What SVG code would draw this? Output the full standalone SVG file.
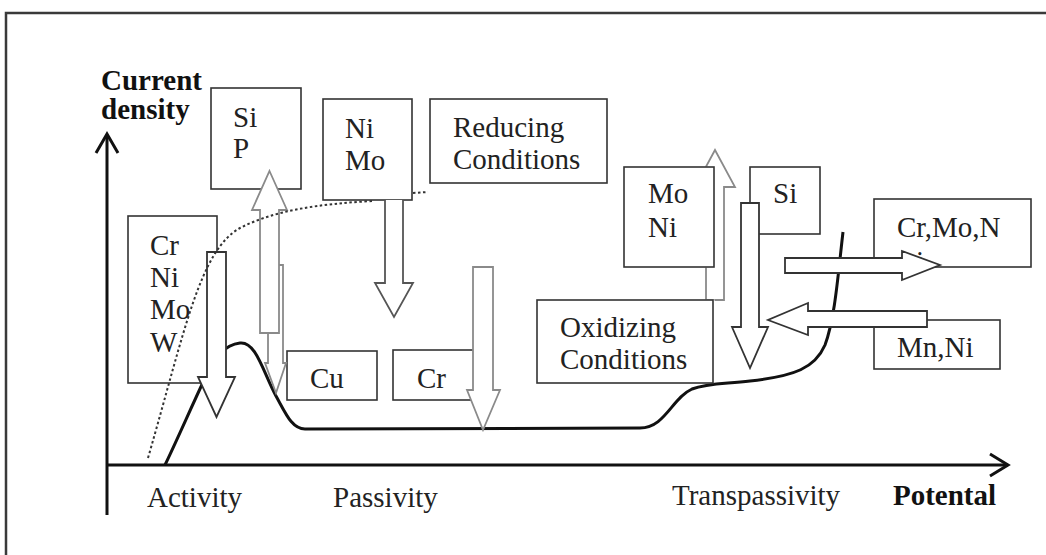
<svg xmlns="http://www.w3.org/2000/svg" width="1046" height="555" viewBox="0 0 1046 555">
<style>
.box{fill:#fff;stroke:#333;stroke-width:1.6}
.t{font-family:"Liberation Serif","Times New Roman",serif;font-size:29px;fill:#222}
.b{font-weight:bold;fill:#111}
.axis{fill:none;stroke:#111;stroke-width:3}
.ad{fill:#fff;stroke:#333;stroke-width:1.8;stroke-linejoin:miter}
.ag{fill:#fff;stroke:#8a8a8a;stroke-width:1.8;stroke-linejoin:miter}
</style>
<defs>
<clipPath id="moClip">
<rect x="714.5" y="140" width="40" height="170"/>
<rect x="680" y="140" width="40" height="26.5"/>
<rect x="680" y="267.5" width="40" height="32"/>
</clipPath>
</defs>
<rect width="1046" height="555" fill="#fff"/>
<g id="frame"><path d="M6,555 V13 H1046" fill="none" stroke="#3a3a3a" stroke-width="2.5"/></g>

<g id="axes">
<path class="axis" d="M107,515 V135"/>
<path class="axis" d="M96,153 L107,134 L118,153"/>
<path class="axis" d="M107,465 H1008"/>
<path class="axis" d="M990,454 L1008,465 L990,476"/>
<text class="t b" x="101" y="90">Current</text>
<text class="t b" x="101" y="119">density</text>
<text class="t" x="147" y="507">Activity</text>
<text class="t" x="333" y="507">Passivity</text>
<text class="t" x="672" y="505">Transpassivity</text>
<text class="t b" x="893" y="505">Potental</text>
</g>

<g id="curve">
<path d="M165,465 C178,438 190,410 205,378 C215,356 225,345 240,343 C256,341 263,372 276,396 C286,414 292,429 305,429 L640,428 C665,428 672,398 692,389 C708,383 725,384 750,381 C795,376 815,368 825,345 C835,318 838,275 843,232" fill="none" stroke="#111" stroke-width="3"/>
</g>

<g id="nodes">
<g id="n-crnimow"><rect class="box" x="128" y="216" width="89" height="167"/>
<text class="t" x="150" y="255">Cr</text><text class="t" x="150" y="287">Ni</text><text class="t" x="150" y="319">Mo</text><text class="t" x="150" y="352">W</text></g>
<g id="n-sip"><rect class="box" x="211" y="88" width="90" height="101"/>
<text class="t" x="233" y="127">Si</text><text class="t" x="233" y="158">P</text></g>
<g id="n-reducing"><rect class="box" x="430" y="99" width="177" height="84"/>
<text class="t" x="453" y="137">Reducing</text><text class="t" x="453" y="169">Conditions</text></g>
<g id="n-cu"><rect class="box" x="287" y="351" width="90" height="49"/>
<text class="t" x="310" y="388">Cu</text></g>
<g id="n-cr"><rect class="box" x="393" y="350" width="90" height="50"/>
<text class="t" x="417" y="388">Cr</text></g>
<g id="n-moni-arrow-back"><path class="ag" clip-path="url(#moClip)" d="M715,150 L735,187 L724,187 L724,300 L706,300 L706,187 L695,187 Z"/></g>
<g id="n-moni"><rect class="box" x="624" y="167" width="90" height="100"/>
<text class="t" x="648" y="203">Mo</text><text class="t" x="648" y="237">Ni</text></g>
<g id="n-oxidizing"><rect class="box" x="537" y="300" width="176" height="83"/>
<text class="t" x="560" y="337">Oxidizing</text><text class="t" x="560" y="369">Conditions</text></g>
<g id="n-si"><rect class="box" x="750" y="167" width="70" height="67"/>
<text class="t" x="773" y="203">Si</text></g>
<g id="n-crmon"><rect class="box" x="874" y="199" width="157" height="68"/>
<text class="t" x="897" y="237">Cr,Mo,N</text><text class="t" x="916" y="271">i</text></g>
<g id="n-mnni"><rect class="box" x="874" y="320" width="126" height="49"/>
<text class="t" x="897" y="357">Mn,Ni</text></g>
</g>

<g id="connectors">
<path class="ag" d="M268,265 L283,265 L283,363 L286,363 L276,393 L265,363 L268,363 Z"/>
<path class="ag" d="M269.5,171 L287,210 L279,210 L279,333 L260,333 L260,210 L252,210 Z"/>
<path class="ag" d="M473,267 L493,267 L493,390 L500,390 L483,430 L467,390 L473,390 Z"/>
<path class="ad" d="M741,203 L759,203 L759,327 L768,327 L750,368 L732,327 L741,327 Z"/>
<path class="ad" d="M785,258 L902,258 L902,251 L940,265 L902,280 L902,273 L785,273 Z"/>
<path class="ad" d="M207,252 L226,252 L226,377 L235,377 L216.5,417 L198,377 L207,377 Z"/>
<path class="ad" d="M927,311 L808,311 L808,303 L768,320 L808,335 L808,327 L927,327 Z"/>
</g>

<g id="dotted">
<path d="M148,458 C185,330 200,250 240,228 C275,210 320,204 372,201" fill="none" stroke="#333" stroke-width="2" stroke-dasharray="2.5,2.5"/>
<path d="M413,193 L428,192" fill="none" stroke="#333" stroke-width="2" stroke-dasharray="2.5,2.5"/>
</g>

<g id="n-nimo"><rect class="box" x="323" y="99" width="89" height="101"/>
<text class="t" x="345" y="138">Ni</text><text class="t" x="345" y="170">Mo</text></g>
<g id="connectors-nimo">
<path d="M385,200 L385,283 L375,283 L394,317 L413,283 L403,283 L403,200" fill="#fff" stroke="#555" stroke-width="1.8"/>
</g>
</svg>
